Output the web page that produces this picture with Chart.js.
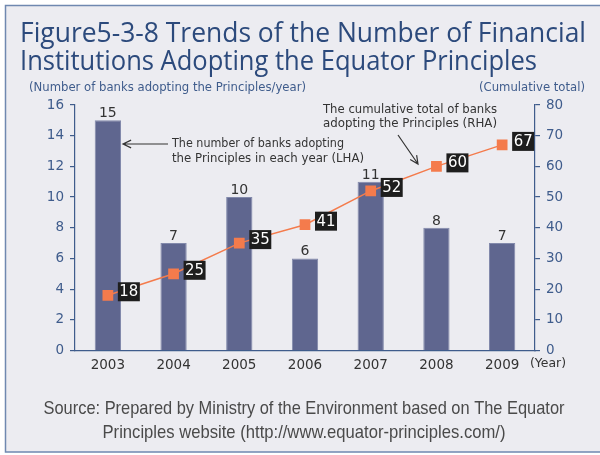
<!DOCTYPE html>
<html>
<head>
<meta charset="utf-8">
<script src="https://cdn.jsdelivr.net/npm/chart.js@4.4.1/dist/chart.umd.min.js"></script>
<style>
  html, body { margin: 0; padding: 0; background: #fff; }
  #wrap { width: 600px; height: 455px; position: relative; }
</style>
</head>
<body>
<div id="wrap"><canvas id="chart" width="600" height="455"></canvas></div>
<script>
// data
const years = ['2003', '2004', '2005', '2006', '2007', '2008', '2009'];
const banksPerYear = [15, 7, 10, 6, 11, 8, 7];
const cumulativeTotal = [18, 25, 35, 41, 52, 60, 67];
const leftTicks = [0, 16, 2];    // min, max, step
const rightTicks = [0, 80, 10];

const axisBlue = '#3f5c8c';
const textDark = '#333333';
const barColor = '#5f668f';
const lineColor = '#f47b4c';

// background, frame, titles, labels and arrows
const decor = {
    id: 'decor',
    beforeDraw(chart) {
        const ctx = chart.ctx;
        ctx.save();
        ctx.fillStyle = '#ffffff';
        ctx.fillRect(0, 0, 600, 455);
        ctx.fillStyle = '#ececf1';
        ctx.fillRect(5, 5, 600, 447);
        ctx.strokeStyle = '#6f88b0';
        ctx.lineWidth = 1.5;
        ctx.strokeRect(5.5, 5.5, 620, 446.5);
        ctx.restore();
    },
    afterDraw(chart) {
        const ctx = chart.ctx;
        const xs = chart.scales.x;
        const yl = chart.scales.y;
        const yr = chart.scales.y1;
        ctx.save();

        // title
        ctx.fillStyle = '#2c4a7c';
        ctx.font = '28px "Open Sans", sans-serif';
        ctx.textBaseline = 'alphabetic';
        ctx.textAlign = 'left';
        ctx.fillText('Figure5-3-8 Trends of the Number of Financial', 20, 42, 566);
        ctx.fillText('Institutions Adopting the Equator Principles', 20, 70, 517);

        // axis titles
        ctx.font = '12px "DejaVu Sans", sans-serif';
        ctx.fillStyle = axisBlue;
        ctx.textBaseline = 'middle';
        ctx.fillText('(Number of banks adopting the Principles/year)', 29, 88, 277);
        ctx.textAlign = 'right';
        ctx.fillText('(Cumulative total)', 585, 88, 106);
        ctx.textAlign = 'left';
        ctx.fillStyle = textDark;
        ctx.font = '13px "DejaVu Sans", sans-serif';
        ctx.fillText('(Year)', 530, 364, 36);

        // bar value labels
        ctx.font = '14px "DejaVu Sans", sans-serif';
        ctx.fillStyle = textDark;
        ctx.textAlign = 'center';
        ctx.textBaseline = 'alphabetic';
        banksPerYear.forEach((v, i) => {
            ctx.fillText(String(v), xs.getPixelForValue(i), yl.getPixelForValue(v) - 3);
        });

        // cumulative value boxes
        ctx.font = '15px "DejaVu Sans", sans-serif';
        ctx.textBaseline = 'middle';
        ctx.textAlign = 'center';
        cumulativeTotal.forEach((v, i) => {
            const px = xs.getPixelForValue(i);
            const py = yr.getPixelForValue(v);
            ctx.fillStyle = '#1e1e1e';
            ctx.fillRect(px + 10, py - 13, 22, 19);
            ctx.fillStyle = '#ffffff';
            ctx.fillText(String(v), px + 21, py - 3, 19);
        });

        // annotations
        ctx.fillStyle = textDark;
        ctx.font = '12.5px "DejaVu Sans", sans-serif';
        ctx.textAlign = 'left';
        ctx.fillText('The number of banks adopting', 172, 144, 172);
        ctx.fillText('the Principles in each year (LHA)', 172, 159, 192);
        ctx.fillText('The cumulative total of banks', 323, 110, 174);
        ctx.fillText('adopting the Principles (RHA)', 323, 124, 174);

        ctx.strokeStyle = textDark;
        ctx.lineWidth = 1.2;
        arrow(ctx, 168, 144, 123, 144);
        arrow(ctx, 398, 135, 418, 164);

        // source
        ctx.fillStyle = '#4a4a4a';
        ctx.font = '19px "Liberation Sans", sans-serif';
        ctx.textAlign = 'center';
        ctx.fillText('Source: Prepared by Ministry of the Environment based on The Equator', 304, 409, 521);
        ctx.fillText('Principles website (http://www.equator-principles.com/)', 304, 433, 403);
        ctx.restore();
    }
};

function arrow(ctx, x1, y1, x2, y2) {
    const a = Math.atan2(y2 - y1, x2 - x1);
    const h = 9;
    ctx.beginPath();
    ctx.moveTo(x1, y1);
    ctx.lineTo(x2, y2);
    ctx.moveTo(x2 - h * Math.cos(a - 0.45), y2 - h * Math.sin(a - 0.45));
    ctx.lineTo(x2, y2);
    ctx.lineTo(x2 - h * Math.cos(a + 0.45), y2 - h * Math.sin(a + 0.45));
    ctx.stroke();
}

function sideAxis(pos, t, width) {
    return {
        position: pos,
        min: t[0],
        max: t[1],
        afterFit: (s) => { s.width = width; },
        grid: { drawOnChartArea: false, tickLength: 5, color: axisBlue, lineWidth: 1.2 },
        border: { color: axisBlue, width: 1.2 },
        ticks: {
            stepSize: t[2],
            color: axisBlue,
            padding: 6,
            font: { family: 'DejaVu Sans', size: 13.5 }
        }
    };
}

new Chart(document.getElementById('chart'), {
    type: 'bar',
    data: {
        labels: years,
        datasets: [
            {
                type: 'line',
                data: cumulativeTotal,
                yAxisID: 'y1',
                borderColor: lineColor,
                borderWidth: 1.5,
                pointStyle: 'rect',
                pointRadius: 7.6,
                pointBackgroundColor: lineColor,
                pointBorderWidth: 0,
                tension: 0,
                order: 0
            },
            {
                data: banksPerYear,
                yAxisID: 'y',
                backgroundColor: barColor,
                borderColor: '#8289ab',
                borderWidth: 1,
                categoryPercentage: 1,
                barPercentage: 0.4,
                order: 1
            }
        ]
    },
    options: {
        responsive: false,
        animation: false,
        layout: { padding: { top: 105, left: 0, right: 0, bottom: 0 } },
        plugins: { legend: { display: false }, tooltip: { enabled: false } },
        scales: {
            x: {
                afterFit: (s) => { s.height = 104.5; },
                grid: { display: false },
                border: { color: axisBlue, width: 1.2 },
                ticks: { color: textDark, padding: -1, font: { family: 'DejaVu Sans', size: 13.5 } }
            },
            y: sideAxis('left', leftTicks, 75),
            y1: sideAxis('right', rightTicks, 65)
        }
    },
    plugins: [decor]
});
</script>
</body>
</html>
